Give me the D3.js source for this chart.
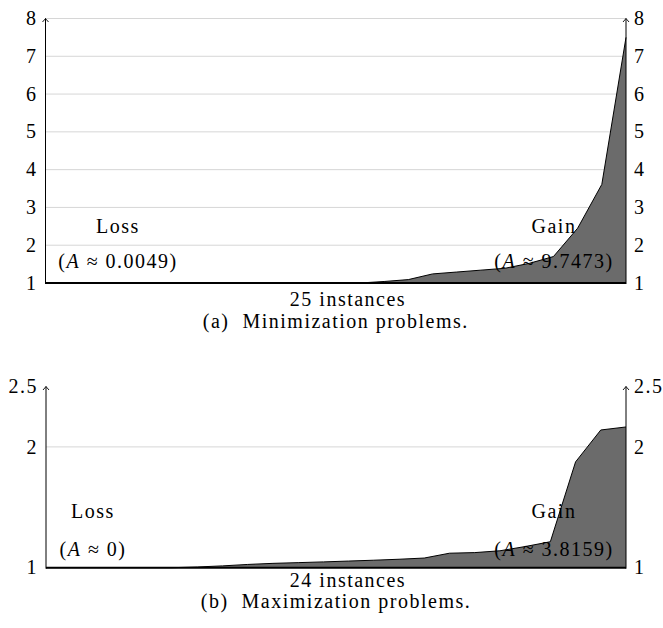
<!DOCTYPE html>
<html><head><meta charset="utf-8">
<script src="https://cdn.jsdelivr.net/npm/d3@7"></script>
<style>
body{margin:0;background:#fff}
svg{display:block}
text{font-family:"Liberation Serif","Times New Roman",serif;font-size:20px;fill:#000;letter-spacing:1.5px}
</style>
</head><body>
<svg id="c" width="663" height="628"></svg>
<script>
// ---- data ----
const minInstanceCount = 25;
const minValues = [1,1,1,1,1,1,1,1,1,1,1,1,1,1.00,1.04,1.09,1.24,1.29,1.34,1.39,1.52,1.70,2.45,3.61,7.50];
const minTicks = [1,2,3,4,5,6,7,8];
const minGrid = [2,3,4,5,6,7,8];
const minLoss = "0.0049";
const minGain = "9.7473";
const minXLabel = "25 instances";
const minCaption = "(a)  Minimization problems.";

const maxInstanceCount = 24;
const maxValues = [1,1,1,1,1,1,1.006,1.015,1.027,1.036,1.042,1.048,1.055,1.062,1.07,1.08,1.12,1.125,1.14,1.175,1.215,1.876,2.14,2.165];
const maxTicks = [1,2,2.5];
const maxGrid = [2];
const maxLoss = "0";
const maxGain = "3.8159";
const maxXLabel = "24 instances";
const maxCaption = "(b)  Maximization problems.";

const svg = d3.select("#c");

function panel(cfg){
  const g = svg.append("g");
  const x = d3.scaleLinear().domain([0, cfg.values.length-1]).range([cfg.x0, cfg.x1]);
  const y = d3.scaleLinear().domain(cfg.yDomain).range([cfg.yBottom, cfg.yTop]);
  // grid
  g.selectAll(".grid").data(cfg.grid).join("line")
    .attr("x1", cfg.x0).attr("x2", cfg.x1)
    .attr("y1", d=>y(d)).attr("y2", d=>y(d))
    .attr("stroke", "#d6d6d6").attr("stroke-width", 1);
  // area
  const area = d3.area().x((d,i)=>x(i)).y0(y(cfg.yDomain[0])).y1(d=>y(d));
  g.append("path").datum(cfg.values).attr("d", area).attr("fill", "#6b6b6b");
  const line = d3.line().x((d,i)=>x(i)).y(d=>y(d));
  g.append("path").datum(cfg.values).attr("d", line).attr("fill","none").attr("stroke","#000").attr("stroke-width",1).attr("stroke-linejoin","round");
  // baseline
  g.append("line").attr("x1", cfg.x0).attr("x2", cfg.x1).attr("y1", y(cfg.yDomain[0])).attr("y2", y(cfg.yDomain[0]))
    .attr("stroke","#000").attr("stroke-width",2);
  // axes with arrows
  [cfg.x0, cfg.x1].forEach(ax=>{
    g.append("line").attr("x1", ax).attr("x2", ax).attr("y1", y(cfg.yDomain[0])+1).attr("y2", y(cfg.yDomain[1]))
      .attr("stroke","#000").attr("stroke-width",1);
    g.append("path").attr("d", `M${ax-3},${y(cfg.yDomain[1])+3.5} Q${ax-0.8},${y(cfg.yDomain[1])+1} ${ax},${y(cfg.yDomain[1])} Q${ax+0.8},${y(cfg.yDomain[1])+1} ${ax+3},${y(cfg.yDomain[1])+3.5}`)
      .attr("fill","none").attr("stroke","#000").attr("stroke-width",0.9);
  });
  // tick labels
  const fmt = d=> String(d);
  g.selectAll(".tl").data(cfg.ticks).join("text")
    .attr("x", cfg.x0-8).attr("y", d=>y(d)).attr("dy","0.33em").attr("text-anchor","end").text(fmt);
  g.selectAll(".tr").data(cfg.ticks).join("text")
    .attr("x", cfg.x1+8).attr("y", d=>y(d)).attr("dy","0.33em").attr("text-anchor","start").text(fmt);
  // loss / gain labels
  function lab(cx, by1, by2, word, val){
    g.append("text").attr("x", cx).attr("y", by1).attr("text-anchor","middle").text(word);
    const t = g.append("text").attr("x", cx).attr("y", by2).attr("text-anchor","middle");
    t.append("tspan").text("(");
    t.append("tspan").attr("font-style","italic").text("A");
    t.append("tspan").text(" \u2248 " + val + ")");
  }
  lab(cfg.lossX, cfg.labY1, cfg.labY2, "Loss", cfg.loss);
  lab(cfg.gainX, cfg.labY1, cfg.labY2, "Gain", cfg.gain);
  // x label & caption
  g.append("text").attr("x", cfg.xLabelX).attr("y", cfg.xLabelY).attr("text-anchor","middle").text(cfg.xLabel);
  g.append("text").attr("x", (cfg.x0+cfg.x1)/2).attr("y", cfg.capY).attr("text-anchor","middle").style("white-space","pre").text(cfg.caption);
}

panel({values:minValues, x0:45.5, x1:626, yDomain:[1,8], yBottom:283, yTop:18.5,
  ticks:minTicks, grid:minGrid, loss:minLoss, gain:minGain, lossX:118, gainX:554, labY1:233, labY2:268,
  xLabel:minXLabel, xLabelX:348, xLabelY:306, caption:minCaption, capY:328});
panel({values:maxValues, x0:46, x1:626, yDomain:[1,2.5], yBottom:567.7, yTop:386.5,
  ticks:maxTicks, grid:maxGrid, loss:maxLoss, gain:maxGain, lossX:93, gainX:554, labY1:518, labY2:556,
  xLabel:maxXLabel, xLabelX:348, xLabelY:587, caption:maxCaption, capY:608});
</script>
</body></html>
